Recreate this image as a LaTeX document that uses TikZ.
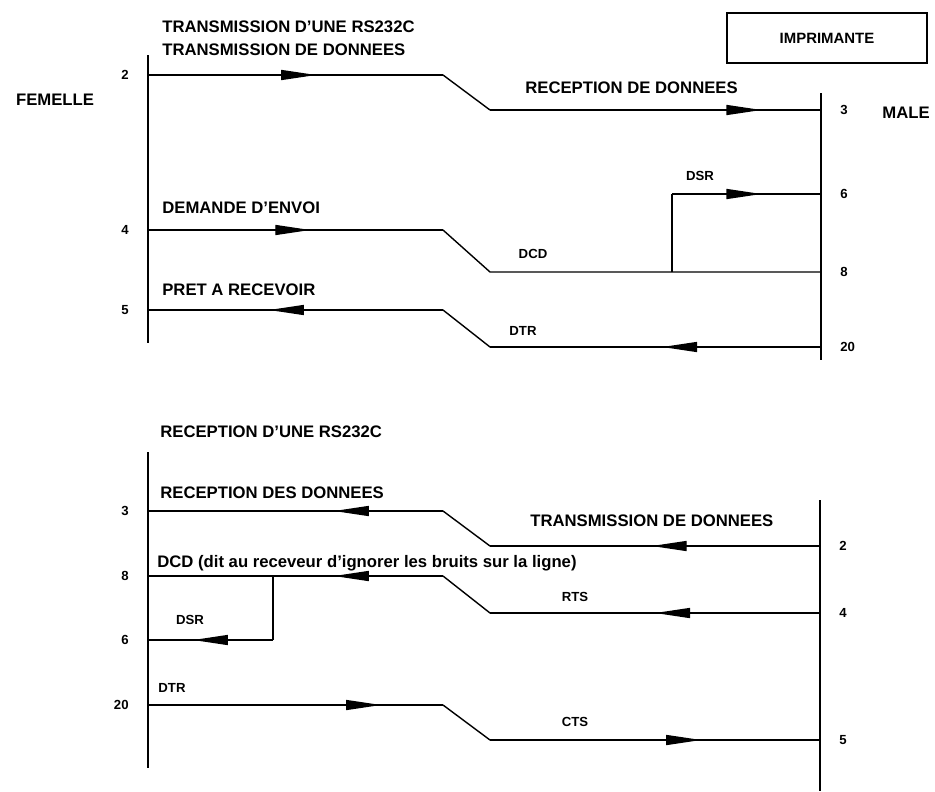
\documentclass[tikz,border=0pt]{standalone}
\usepackage{fontspec}
\setmainfont{Liberation Sans}
\usetikzlibrary{arrows.meta,decorations.markings}

\newcommand{\gros}{\fontsize{9.5}{11}\selectfont\bfseries}
\newcommand{\menu}{\fontsize{7.5}{9}\selectfont\bfseries}

\tikzset{
  fil/.style={line width=0.8pt},
  fleche/.style={postaction={decorate},
    decoration={markings,mark=at position #1 with {\arrow{Triangle[length=7mm,width=2mm]}}}},
  titre/.style={font=\gros, anchor=west, inner sep=0pt},
  sigle/.style={font=\menu, inner sep=0pt},
  every label/.style={font=\menu, inner sep=0pt},
}

\begin{document}
\begin{tikzpicture}[x=0.02cm, y=-0.02cm, label distance=0.38cm]
    \useasboundingbox (0,0) rectangle (935,791);

    % emission
    \node[titre] (t1) at (162,27) {TRANSMISSION D'UNE RS232C};
    \node[titre] (t2) at (162,50) {TRANSMISSION DE DONNEES};
    \node[font=\gros] (fem) at (55,100) {FEMELLE};
    \node[font=\gros] (mal) at (906,113) {MALE};
    \node[draw, line width=1pt, minimum width=4cm, minimum height=1cm,
          font=\fontsize{8.5}{10}\selectfont\bfseries] (imp) at (827,38) {IMPRIMANTE};

    \coordinate (fh) at (148,55);
    \coordinate (fb) at (148,343);
    \coordinate (mh) at (821,93);
    \coordinate (mb) at (821,360);
    \draw[fil] (fh) -- (fb);
    \draw[fil] (mh) -- (mb);

    \coordinate [label={[name=lf2]left:2}] (f2) at (148,75);
    \coordinate [label={[name=lf4]left:4}] (f4) at (148,230);
    \coordinate [label={[name=lf5]left:5}] (f5) at (148,310);
    \coordinate [label={[name=lm3]right:3}] (m3) at (821,110);
    \coordinate [label={[name=lm6]right:6}] (m6) at (821,194);
    \coordinate [label={[name=lm8]right:8}] (m8) at (821,272);
    \coordinate [label={[name=lm20]right:20}] (m20) at (821,347);

    \coordinate (a2) at (443,75);  \coordinate (b2) at (490,110);
    \coordinate (a4) at (443,230); \coordinate (b4) at (490,272);
    \coordinate (a5) at (443,310); \coordinate (b5) at (490,347);
    \coordinate (j6) at (672,272); \coordinate (k6) at (672,194);

    \draw[fil, fleche=0.57] (f2) -- (a2);
    \draw[fil] (a2) -- (b2);
    \draw[fil, fleche=0.82] (b2) -- (m3);

    \draw[fil, fleche=0.55] (f4) -- (a4);
    \draw[fil] (a4) -- (b4) -- (m8);
    \draw[fil] (j6) -- (k6);
    \draw[fil, fleche=0.6] (k6) -- (m6);

    \draw[fil, fleche=0.48] (m20) -- (b5);
    \draw[fil] (b5) -- (a5);
    \draw[fil, fleche=0.59] (a5) -- (f5);

    \node[titre] (rdd) at (525,88) {RECEPTION DE DONNEES};
    \node[sigle] (dsr1) at (700,176) {DSR};
    \node[titre] (dde) at (162,208) {DEMANDE D'ENVOI};
    \node[sigle] (dcd1) at (533,254) {DCD};
    \node[titre] (par) at (162,290) {PRET A RECEVOIR};
    \node[sigle] (dtr1) at (523,331) {DTR};

    % reception
    \node[titre] (t3) at (160,432) {RECEPTION D'UNE RS232C};

    \coordinate (gh) at (148,452);
    \coordinate (gb) at (148,768);
    \coordinate (nh) at (820,500);
    \coordinate (nb) at (820,791);
    \draw[fil] (gh) -- (gb);
    \draw[fil] (nh) -- (nb);

    \coordinate [label={[name=lg3]left:3}] (g3) at (148,511);
    \coordinate [label={[name=lg8]left:8}] (g8) at (148,576);
    \coordinate [label={[name=lg6]left:6}] (g6) at (148,640);
    \coordinate [label={[name=lg20]left:20}] (g20) at (148,705);
    \coordinate [label={[name=ln2]right:2}] (n2) at (820,546);
    \coordinate [label={[name=ln4]right:4}] (n4) at (820,613);
    \coordinate [label={[name=ln5]right:5}] (n5) at (820,740);

    \coordinate (c3) at (443,511);  \coordinate (d3) at (490,546);
    \coordinate (c8) at (443,576);  \coordinate (d8) at (490,613);
    \coordinate (c20) at (443,705); \coordinate (d20) at (490,740);
    \coordinate (j8) at (273,576);  \coordinate (k8) at (273,640);

    \draw[fil, fleche=0.51] (n2) -- (d3);
    \draw[fil] (d3) -- (c3);
    \draw[fil, fleche=0.37] (c3) -- (g3);

    \draw[fil, fleche=0.5] (n4) -- (d8);
    \draw[fil] (d8) -- (c8);
    \draw[fil, fleche=0.37] (c8) -- (g8);
    \draw[fil] (j8) -- (k8);
    \draw[fil, fleche=0.64] (k8) -- (g6);

    \draw[fil, fleche=0.79] (g20) -- (c20);
    \draw[fil] (c20) -- (d20);
    \draw[fil, fleche=0.64] (d20) -- (n5);

    \node[titre] (rdes) at (160,493) {RECEPTION DES DONNEES};
    \node[titre] (tdd) at (530,521) {TRANSMISSION DE DONNEES};
    \node[titre] (dcd2) at (157,563) {DCD (dit au receveur d'ignorer les bruits sur la ligne)};
    \node[sigle] (rts) at (575,597) {RTS};
    \node[sigle] (dsr2) at (190,620) {DSR};
    \node[sigle] (dtr2) at (172,688) {DTR};
    \node[sigle] (cts) at (575,722) {CTS};
\end{tikzpicture}
\end{document}
